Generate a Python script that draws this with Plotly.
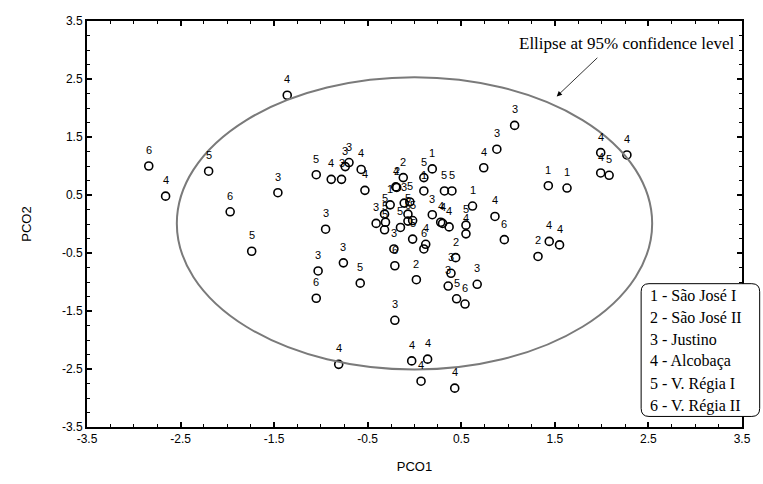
import plotly.graph_objects as go

# ---- data (PCO1, PCO2) per group ----
groups = ["1", "2", "3", "4", "5", "6"]
group_names = ["São José I", "São José II", "Justino", "Alcobaça", "V. Régia I", "V. Régia II"]

g1_x = [0.19, 0.10, 0.62, -0.26, 1.43, 1.63]
g1_y = [0.95, 0.57, 0.31, 0.33, 0.66, 0.62]

g2_x = [-0.12, -0.19, 0.44, 0.02, 1.32]
g2_y = [0.80, 0.63, -0.58, -0.96, -0.56]

g3_x = [-1.46, -0.95, -0.78, -0.74, -0.70, -0.76, -1.03, -0.41, -0.11, 0.19, 0.39, 0.36, 0.67, -0.22, -0.21, 1.07, 0.88]
g3_y = [0.54, -0.09, 0.77, 0.99, 1.06, -0.67, -0.81, 0.01, 0.36, 0.16, -0.85, -1.07, -1.04, -0.43, -1.66, 1.70, 1.29]

g4_x = [-2.66, -1.36, -0.89, -0.57, -0.53, -0.81, -0.20, 0.28, 0.30, 0.37, 0.55, 0.12, 0.86,
        -0.03, 0.14, 0.07, 0.43, 0.74, 1.99, 1.99, 2.27, 1.44, 1.55]
g4_y = [0.48, 2.22, 0.77, 0.94, 0.58, -2.42, 0.64, 0.03, 0.01, -0.05, -0.17, -0.35, 0.13,
        -2.36, -2.33, -2.71, -2.83, 0.97, 1.23, 0.88, 1.19, -0.30, -0.36]

g5_x = [-2.20, -1.74, -1.05, -0.58, 0.10, 0.32, 0.40, -0.32, -0.31, -0.32, -0.05, -0.07, -0.15, -0.02, -0.02, 0.55, 0.45, 2.08]
g5_y = [0.91, -0.47, 0.85, -1.02, 0.80, 0.57, 0.57, 0.17, 0.03, -0.10, 0.38, 0.17, -0.06, 0.06, -0.26, -0.02, -1.29, 0.84]

g6_x = [-2.84, -1.97, -1.05, -0.07, 0.10, 0.54, -0.21, 0.96]
g6_y = [1.00, 0.21, -1.28, 0.05, -0.43, -1.38, -0.72, -0.27]

xs = [g1_x, g2_x, g3_x, g4_x, g5_x, g6_x]
ys = [g1_y, g2_y, g3_y, g4_y, g5_y, g6_y]

tick_vals = [-3.5, -2.5, -1.5, -0.5, 0.5, 1.5, 2.5, 3.5]
tick_text = ["-3.5", "-2.5", "-1.5", "-0.5", "0.5", "1.5", "2.5", "3.5"]

# 95% confidence ellipse bounds
ell_x = [-2.54, 2.54]
ell_y = [-2.51, 2.53]

fig = go.Figure()
annotations = []
for g, gx, gy in zip(groups, xs, ys):
    fig.add_trace(go.Scatter(
        x=gx, y=gy, mode="markers", name=g, showlegend=False,
        marker=dict(symbol="circle-open", size=8, color="black", line=dict(width=1.6, color="black")),
        hoverinfo="x+y+name",
    ))
    for px, py in zip(gx, gy):
        annotations.append(dict(x=px, y=py, xref="x", yref="y", text=g, showarrow=False,
                                yshift=16, font=dict(family="Liberation Sans", size=11, color="black")))

# ellipse
fig.add_shape(type="circle", xref="x", yref="y", x0=ell_x[0], x1=ell_x[1], y0=ell_y[0], y1=ell_y[1],
              line=dict(color="#7a7a7a", width=2), layer="above")

# ellipse caption and arrow
annotations.append(dict(x=2.27, y=3.11, xref="x", yref="y", text="Ellipse at 95% confidence level",
                        showarrow=False, font=dict(family="Liberation Serif", size=17, color="black")))
annotations.append(dict(x=1.52, y=2.20, xref="x", yref="y", ax=1.97, ay=2.89, axref="x", ayref="y",
                        text="", showarrow=True, arrowhead=2, arrowsize=1.3, arrowwidth=0.8,
                        arrowcolor="black"))

# legend box (rounded)
x0, x1, y0, y1 = 0.846, 1.027, 0.026, 0.353
rx, ry = 0.012, 0.02
path = (f"M {x0+rx},{y0} L {x1-rx},{y0} Q {x1},{y0} {x1},{y0+ry} L {x1},{y1-ry} Q {x1},{y1} {x1-rx},{y1} "
        f"L {x0+rx},{y1} Q {x0},{y1} {x0},{y1-ry} L {x0},{y0+ry} Q {x0},{y0} {x0+rx},{y0} Z")
fig.add_shape(type="path", xref="paper", yref="paper", path=path,
              line=dict(color="black", width=1), fillcolor="white", layer="above")
for i, (g, nm) in enumerate(zip(groups, group_names)):
    annotations.append(dict(x=0.856, y=0.325 - i * 0.0545, xref="paper", yref="paper",
                            text=f"{g} - {nm}", showarrow=False, xanchor="left", yanchor="middle",
                            font=dict(family="Liberation Serif", size=16, color="black")))

axis_common = dict(
    range=[-3.5, 3.5], tickvals=tick_vals, ticktext=tick_text,
    ticks="inside", ticklen=5, tickwidth=1.5, tickcolor="black",
    showline=True, linewidth=2, linecolor="black", mirror="ticks",
    showgrid=False, zeroline=False,
    tickfont=dict(family="Liberation Sans", size=12, color="black"),
    minor=dict(dtick=0.25, tick0=-3.5, ticks="inside", ticklen=3, tickwidth=1, tickcolor="black", showgrid=False),
)

fig.update_layout(
    width=763, height=484,
    margin=dict(l=87, r=19, t=21, b=56),
    paper_bgcolor="white", plot_bgcolor="white",
    xaxis=dict(**axis_common, title=dict(text="PCO1", standoff=16,
               font=dict(family="Liberation Sans", size=13, color="black"))),
    yaxis=dict(**axis_common, title=dict(text="PCO2", standoff=27,
               font=dict(family="Liberation Sans", size=13, color="black"))),
    annotations=annotations,
)

fig.write_html("out.html", config={"displayModeBar": False},
               post_script="document.body.style.margin='0';document.body.style.overflow='hidden';")
